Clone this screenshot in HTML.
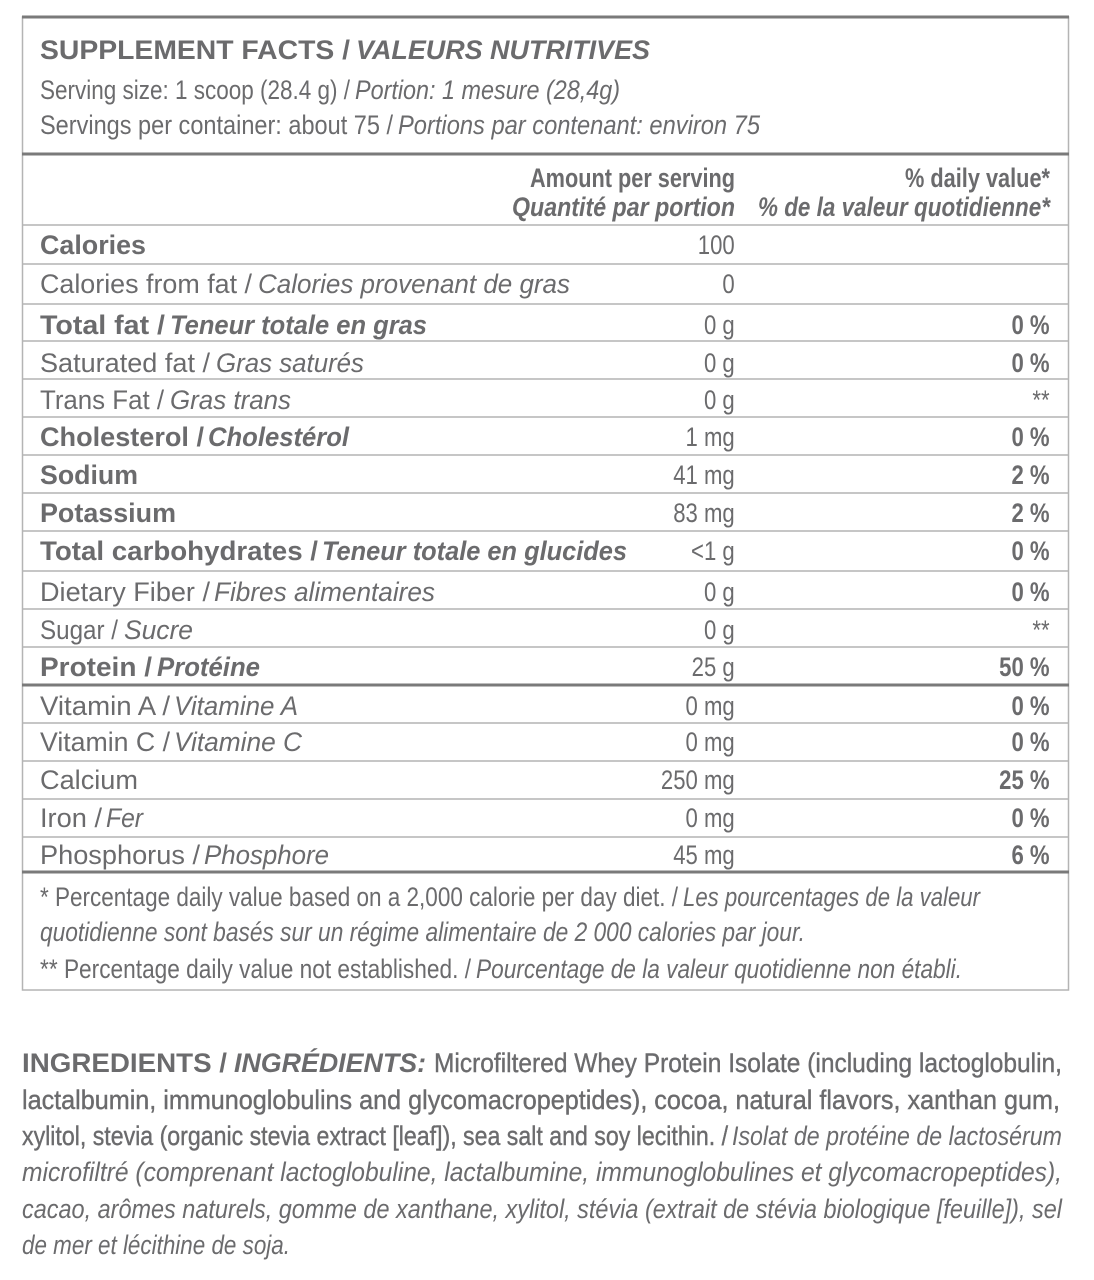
<!DOCTYPE html>
<html><head><meta charset="utf-8"><style>
html,body{margin:0;padding:0;background:#fff;}
svg{display:block}
text{font-family:"Liberation Sans",sans-serif;fill:#6b6b6d;font-size:27px}
.b{font-weight:bold}
.i{font-style:italic}
.bi{font-weight:bold;font-style:italic}
</style></head><body>
<svg width="1094" height="1280" viewBox="0 0 1094 1280" xmlns="http://www.w3.org/2000/svg">
<rect x="0" y="0" width="1094" height="1280" fill="#fff"/>
<rect x="22.5" y="17" width="1046" height="973" fill="none" stroke="#b4b4b4" stroke-width="1.5"/>
<line x1="22" y1="17" x2="1069" y2="17" stroke="#7a7a7a" stroke-width="3"/>
<line x1="22" y1="154" x2="1069" y2="154" stroke="#7a7a7a" stroke-width="3"/>
<line x1="22" y1="685" x2="1069" y2="685" stroke="#7a7a7a" stroke-width="3"/>
<line x1="22" y1="872" x2="1069" y2="872" stroke="#7a7a7a" stroke-width="3"/>
<g stroke="#b4b4b4" stroke-width="1.5">
<line x1="22" y1="225" x2="1069" y2="225"/>
<line x1="22" y1="264" x2="1069" y2="264"/>
<line x1="22" y1="304" x2="1069" y2="304"/>
<line x1="22" y1="341" x2="1069" y2="341"/>
<line x1="22" y1="379" x2="1069" y2="379"/>
<line x1="22" y1="417" x2="1069" y2="417"/>
<line x1="22" y1="455" x2="1069" y2="455"/>
<line x1="22" y1="493" x2="1069" y2="493"/>
<line x1="22" y1="531" x2="1069" y2="531"/>
<line x1="22" y1="571" x2="1069" y2="571"/>
<line x1="22" y1="609" x2="1069" y2="609"/>
<line x1="22" y1="647" x2="1069" y2="647"/>
<line x1="22" y1="723" x2="1069" y2="723"/>
<line x1="22" y1="761" x2="1069" y2="761"/>
<line x1="22" y1="799" x2="1069" y2="799"/>
<line x1="22" y1="837" x2="1069" y2="837"/>
</g>
<text class="b" x="40" y="59" font-size="28" textLength="310" lengthAdjust="spacingAndGlyphs">SUPPLEMENT FACTS /</text>
<text class="bi" x="356" y="59" font-size="28" textLength="294" lengthAdjust="spacingAndGlyphs">VALEURS NUTRITIVES</text>
<text x="40" y="99" font-size="26" textLength="310" lengthAdjust="spacingAndGlyphs">Serving size: 1 scoop (28.4 g) /</text>
<text class="i" x="355" y="99" font-size="26" textLength="265" lengthAdjust="spacingAndGlyphs">Portion: 1 mesure (28,4g)</text>
<text x="40" y="134" font-size="26" textLength="353" lengthAdjust="spacingAndGlyphs">Servings per container: about 75 /</text>
<text class="i" x="398" y="134" font-size="26" textLength="362" lengthAdjust="spacingAndGlyphs">Portions par contenant: environ 75</text>
<text class="b" x="530" y="187" font-size="26" textLength="205" lengthAdjust="spacingAndGlyphs">Amount per serving</text>
<text class="bi" x="512" y="216" font-size="26" textLength="223" lengthAdjust="spacingAndGlyphs">Quantité par portion</text>
<text class="b" x="905" y="187" font-size="26" textLength="145" lengthAdjust="spacingAndGlyphs">% daily value*</text>
<text class="bi" x="758" y="216" font-size="26" textLength="292" lengthAdjust="spacingAndGlyphs">% de la valeur quotidienne*</text>
<text class="b" x="40" y="254" textLength="106" lengthAdjust="spacingAndGlyphs">Calories</text>
<text x="40" y="293" textLength="212" lengthAdjust="spacingAndGlyphs">Calories from fat /</text>
<text class="i" x="258" y="293" textLength="312" lengthAdjust="spacingAndGlyphs">Calories provenant de gras</text>
<text class="b" x="40" y="334" textLength="125" lengthAdjust="spacingAndGlyphs">Total fat /</text>
<text class="bi" x="170" y="334" textLength="257" lengthAdjust="spacingAndGlyphs">Teneur totale en gras</text>
<text x="40" y="372" textLength="170" lengthAdjust="spacingAndGlyphs">Saturated fat /</text>
<text class="i" x="216" y="372" textLength="148" lengthAdjust="spacingAndGlyphs">Gras saturés</text>
<text x="40" y="409" textLength="124" lengthAdjust="spacingAndGlyphs">Trans Fat /</text>
<text class="i" x="170" y="409" textLength="121" lengthAdjust="spacingAndGlyphs">Gras trans</text>
<text class="b" x="40" y="446" textLength="164" lengthAdjust="spacingAndGlyphs">Cholesterol /</text>
<text class="bi" x="208" y="446" textLength="141" lengthAdjust="spacingAndGlyphs">Cholestérol</text>
<text class="b" x="40" y="484" textLength="98" lengthAdjust="spacingAndGlyphs">Sodium</text>
<text class="b" x="40" y="522" textLength="136" lengthAdjust="spacingAndGlyphs">Potassium</text>
<text class="b" x="40" y="560" textLength="278" lengthAdjust="spacingAndGlyphs">Total carbohydrates /</text>
<text class="bi" x="322" y="560" textLength="305" lengthAdjust="spacingAndGlyphs">Teneur totale en glucides</text>
<text x="40" y="601" textLength="170" lengthAdjust="spacingAndGlyphs">Dietary Fiber /</text>
<text class="i" x="214" y="601" textLength="221" lengthAdjust="spacingAndGlyphs">Fibres alimentaires</text>
<text x="40" y="639" textLength="78" lengthAdjust="spacingAndGlyphs">Sugar /</text>
<text class="i" x="124" y="639" textLength="69" lengthAdjust="spacingAndGlyphs">Sucre</text>
<text class="b" x="40" y="676" textLength="112" lengthAdjust="spacingAndGlyphs">Protein /</text>
<text class="bi" x="157" y="676" textLength="103" lengthAdjust="spacingAndGlyphs">Protéine</text>
<text x="40" y="715" textLength="130" lengthAdjust="spacingAndGlyphs">Vitamin A /</text>
<text class="i" x="174" y="715" textLength="124" lengthAdjust="spacingAndGlyphs">Vitamine A</text>
<text x="40" y="751" textLength="130" lengthAdjust="spacingAndGlyphs">Vitamin C /</text>
<text class="i" x="174" y="751" textLength="128" lengthAdjust="spacingAndGlyphs">Vitamine C</text>
<text x="40" y="789" textLength="98" lengthAdjust="spacingAndGlyphs">Calcium</text>
<text x="40" y="827" textLength="62" lengthAdjust="spacingAndGlyphs">Iron /</text>
<text class="i" x="106" y="827" textLength="37" lengthAdjust="spacingAndGlyphs">Fer</text>
<text x="40" y="864" textLength="160" lengthAdjust="spacingAndGlyphs">Phosphorus /</text>
<text class="i" x="204" y="864" textLength="125" lengthAdjust="spacingAndGlyphs">Phosphore</text>
<g transform="scale(0.82,1)" text-anchor="end">
<g>
<text x="896" y="254">100</text>
<text x="896" y="293">0</text>
<text x="896" y="334">0 g</text>
<text x="896" y="372">0 g</text>
<text x="896" y="409">0 g</text>
<text x="896" y="446">1 mg</text>
<text x="896" y="484">41 mg</text>
<text x="896" y="522">83 mg</text>
<text x="896" y="560">&lt;1 g</text>
<text x="896" y="601">0 g</text>
<text x="896" y="639">0 g</text>
<text x="896" y="676">25 g</text>
<text x="896" y="715">0 mg</text>
<text x="896" y="751">0 mg</text>
<text x="896" y="789">250 mg</text>
<text x="896" y="827">0 mg</text>
<text x="896" y="864">45 mg</text>
</g>
<g class="b">
<text x="1280" y="334">0 %</text>
<text x="1280" y="372">0 %</text>
<text x="1280" y="409" font-weight="normal">**</text>
<text x="1280" y="446">0 %</text>
<text x="1280" y="484">2 %</text>
<text x="1280" y="522">2 %</text>
<text x="1280" y="560">0 %</text>
<text x="1280" y="601">0 %</text>
<text x="1280" y="639" font-weight="normal">**</text>
<text x="1280" y="676">50 %</text>
<text x="1280" y="715">0 %</text>
<text x="1280" y="751">0 %</text>
<text x="1280" y="789">25 %</text>
<text x="1280" y="827">0 %</text>
<text x="1280" y="864">6 %</text>
</g>
</g>
<text x="40" y="906" font-size="24" textLength="638" lengthAdjust="spacingAndGlyphs">* Percentage daily value based on a 2,000 calorie per day diet. /</text>
<text class="i" x="683" y="906" font-size="24" textLength="297" lengthAdjust="spacingAndGlyphs">Les pourcentages de la valeur</text>
<text class="i" x="40" y="941" font-size="24" textLength="765" lengthAdjust="spacingAndGlyphs">quotidienne sont basés sur un régime alimentaire de 2 000 calories par jour.</text>
<text x="40" y="978" font-size="24" textLength="431" lengthAdjust="spacingAndGlyphs">** Percentage daily value not established. /</text>
<text class="i" x="476" y="978" font-size="24" textLength="486" lengthAdjust="spacingAndGlyphs">Pourcentage de la valeur quotidienne non établi.</text>
<text class="b" x="22" y="1072" font-size="26" textLength="205" lengthAdjust="spacingAndGlyphs">INGREDIENTS /</text>
<text class="bi" x="234" y="1072" font-size="26" textLength="192" lengthAdjust="spacingAndGlyphs">INGRÉDIENTS:</text>
<text x="434" y="1072" font-size="26" textLength="628" lengthAdjust="spacingAndGlyphs" stroke="#6b6b6d" stroke-width="0.4">Microfiltered Whey Protein Isolate (including lactoglobulin,</text>
<text x="22" y="1109" font-size="26" textLength="1038" lengthAdjust="spacingAndGlyphs" stroke="#6b6b6d" stroke-width="0.4">lactalbumin, immunoglobulins and glycomacropeptides), cocoa, natural flavors, xanthan gum,</text>
<text x="22" y="1145" font-size="26" textLength="706" lengthAdjust="spacingAndGlyphs" stroke="#6b6b6d" stroke-width="0.4">xylitol, stevia (organic stevia extract [leaf]), sea salt and soy lecithin. /</text>
<text class="i" x="732" y="1145" font-size="26" textLength="330" lengthAdjust="spacingAndGlyphs">Isolat de protéine de lactosérum</text>
<text class="i" x="22" y="1181" font-size="26" textLength="1040" lengthAdjust="spacingAndGlyphs">microfiltré (comprenant lactoglobuline, lactalbumine, immunoglobulines et glycomacropeptides),</text>
<text class="i" x="22" y="1218" font-size="26" textLength="1040" lengthAdjust="spacingAndGlyphs">cacao, arômes naturels, gomme de xanthane, xylitol, stévia (extrait de stévia biologique [feuille]), sel</text>
<text class="i" x="22" y="1254" font-size="26" textLength="268" lengthAdjust="spacingAndGlyphs">de mer et lécithine de soja.</text>
</svg>
</body></html>
